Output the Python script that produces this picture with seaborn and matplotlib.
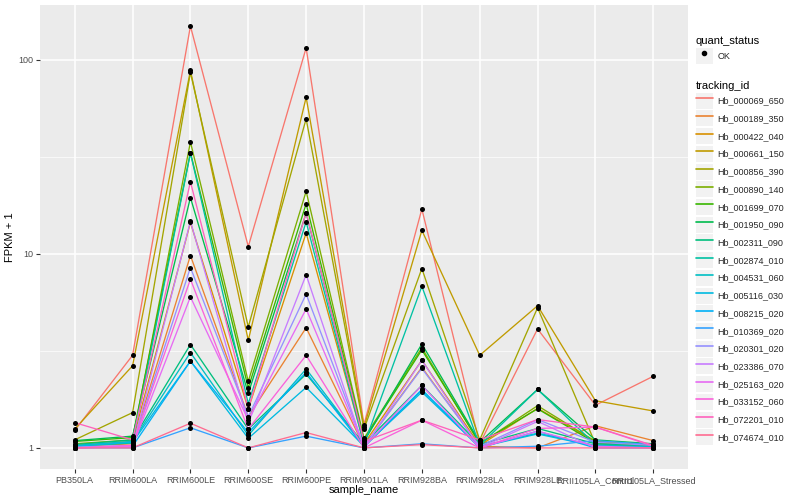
import numpy as np
import pandas as pd
import matplotlib
matplotlib.use('Agg')
import matplotlib.pyplot as plt
import seaborn as sns
from matplotlib.lines import Line2D
from matplotlib.patches import Patch
from matplotlib.legend_handler import HandlerTuple
from matplotlib.ticker import FixedLocator, NullFormatter, FuncFormatter

# samples on the x axis
samples = ['PB350LA', 'RRIM600LA', 'RRIM600LE', 'RRIM600SE', 'RRIM600PE',
           'RRIM901LA', 'RRIM928BA', 'RRIM928LA', 'RRIM928LE',
           'RRII105LA_Control', 'RRII105LA_Stressed']

tracking_ids = ['Hb_000069_650', 'Hb_000189_350', 'Hb_000422_040',
                'Hb_000661_150', 'Hb_000856_390', 'Hb_000890_140',
                'Hb_001699_070', 'Hb_001950_090', 'Hb_002311_090',
                'Hb_002874_010', 'Hb_004531_060', 'Hb_005116_030',
                'Hb_008215_020', 'Hb_010369_020', 'Hb_020301_020',
                'Hb_023386_070', 'Hb_025163_020', 'Hb_033152_060',
                'Hb_072201_010', 'Hb_074674_010']

# FPKM + 1 per gene, one value per sample
hb_000069_650 = [1.23, 3.0, 149, 10.9, 115, 1.32, 17.0, 1.05, 4.1, 1.66, 2.34]
hb_000189_350 = [1.02, 1.05, 9.8, 1.45, 4.16, 1.02, 2.6, 1.02, 1.0, 1.3, 1.09]
hb_000422_040 = [1.03, 1.08, 14.5, 1.59, 12.8, 1.05, 2.83, 1.03, 1.6, 1.08, 1.04]
hb_000661_150 = [1.25, 2.65, 88, 3.58, 64, 1.28, 13.2, 3.0, 5.4, 1.75, 1.55]
hb_000856_390 = [1.1, 1.52, 86, 4.2, 49.6, 1.25, 8.4, 1.1, 5.27, 1.05, 1.02]
hb_000890_140 = [1.05, 1.1, 37.7, 2.2, 21.0, 1.12, 3.28, 1.05, 1.65, 1.08, 1.02]
hb_001699_070 = [1.08, 1.13, 33.2, 2.04, 18.1, 1.1, 3.2, 1.06, 1.59, 1.06, 1.03]
hb_001950_090 = [1.09, 1.15, 19.5, 1.91, 16.2, 1.08, 3.43, 1.07, 2.0, 1.1, 1.05]
hb_002311_090 = [1.04, 1.1, 3.41, 1.25, 2.4, 1.05, 2.1, 1.04, 1.26, 1.05, 1.02]
hb_002874_010 = [1.02, 1.06, 33.0, 1.69, 14.6, 1.04, 6.8, 1.03, 2.0, 1.04, 1.01]
hb_004531_060 = [1.03, 1.08, 3.1, 1.16, 2.55, 1.03, 1.98, 1.02, 1.19, 1.03, 1.01]
hb_005116_030 = [1.02, 1.07, 2.8, 1.12, 2.05, 1.02, 1.94, 1.01, 1.18, 1.02, 1.01]
hb_008215_020 = [1.0, 1.02, 2.8, 1.2, 2.45, 1.01, 2.0, 1.0, 1.22, 1.0, 1.0]
hb_010369_020 = [1.0, 1.0, 1.27, 1.0, 1.15, 1.0, 1.05, 1.0, 1.02, 1.09, 1.04]
hb_020301_020 = [1.01, 1.03, 8.5, 1.45, 6.2, 1.02, 2.57, 1.02, 1.4, 1.07, 1.03]
hb_023386_070 = [1.0, 1.01, 14.7, 1.34, 7.8, 1.0, 2.83, 1.0, 1.37, 1.0, 1.0]
hb_025163_020 = [1.0, 1.02, 6.0, 1.39, 5.2, 1.01, 2.1, 1.0, 1.22, 1.02, 1.0]
hb_033152_060 = [1.0, 1.03, 7.4, 1.25, 3.0, 1.0, 1.39, 1.0, 1.26, 1.28, 1.02]
hb_072201_010 = [1.35, 1.1, 23.5, 1.59, 16.3, 1.08, 1.39, 1.1, 1.4, 1.28, 1.03]
hb_074674_010 = [1.0, 1.0, 1.34, 1.0, 1.2, 1.0, 1.04, 1.0, 1.0, 1.0, 1.0]

genes = [hb_000069_650, hb_000189_350, hb_000422_040, hb_000661_150,
         hb_000856_390, hb_000890_140, hb_001699_070, hb_001950_090,
         hb_002311_090, hb_002874_010, hb_004531_060, hb_005116_030,
         hb_008215_020, hb_010369_020, hb_020301_020, hb_023386_070,
         hb_025163_020, hb_033152_060, hb_072201_010, hb_074674_010]

# ggplot hue palette, 20 levels
palette = ['#F8766D', '#EA8331', '#D89000', '#C09B00', '#A3A500', '#7CAE00',
           '#39B600', '#00BB4E', '#00BF7D', '#00C1A3', '#00BFC4', '#00BAE0',
           '#00B0F6', '#35A2FF', '#9590FF', '#C77CFF', '#E76BF3', '#FA62DB',
           '#FF62BC', '#FF6C91']

rows = []
for tid, vals in zip(tracking_ids, genes):
    for i, (s, v) in enumerate(zip(samples, vals)):
        rows.append({'tracking_id': tid, 'sample_name': s, 'pos': i,
                     'fpkm1': v, 'quant_status': 'OK'})
df = pd.DataFrame(rows)

sns.set_theme(style='darkgrid')
plt.rcParams['font.family'] = ['Liberation Sans', 'DejaVu Sans']

fig = plt.figure(figsize=(8, 5), dpi=100)
fig.patch.set_facecolor('white')
ax = fig.add_axes([40 / 800, 1 - 469 / 500, (688 - 40) / 800, (469 - 5) / 500])

sns.lineplot(data=df, x='pos', y='fpkm1', hue='tracking_id',
             hue_order=tracking_ids, palette=palette, lw=0.95, sort=False,
             estimator=None, legend=False, ax=ax)
sns.scatterplot(data=df, x='pos', y='fpkm1', color='black', s=13,
                linewidth=0, legend=False, ax=ax, zorder=3)

ax.set_yscale('log')
lo, hi = np.log10(df['fpkm1'].min()), np.log10(df['fpkm1'].max())
pad = 0.05 * (hi - lo)
ax.set_ylim(10 ** (lo - pad), 10 ** (hi + pad))
ax.set_xlim(-0.6, len(samples) - 0.4)
ax.set_xticks(range(len(samples)))
ax.set_xticklabels(samples)
ax.yaxis.set_major_locator(FixedLocator([1, 10, 100]))
ax.yaxis.set_minor_locator(FixedLocator([10 ** 0.5, 10 ** 1.5]))
ax.yaxis.set_major_formatter(FuncFormatter(lambda v, p: f'{v:g}'))
ax.yaxis.set_minor_formatter(NullFormatter())

ax.set_facecolor('#EBEBEB')
ax.grid(which='major', color='white', lw=1.1)
ax.grid(which='minor', axis='y', color='white', lw=0.5)
ax.set_axisbelow(True)
for sp in ax.spines.values():
    sp.set_visible(False)
ax.tick_params(which='major', length=3, width=0.8, color='#333333',
               labelsize=6.5, labelcolor='#4D4D4D', pad=2,
               bottom=True, left=True)
ax.tick_params(which='minor', length=0)
ax.set_xlabel('sample_name', fontsize=8, labelpad=0, color='black')
ax.set_ylabel('FPKM + 1', fontsize=8, labelpad=2, color='black')

# legends
key_bg = '#F2F2F2'
hmap = {tuple: HandlerTuple(ndivide=1)}
leg_kw = dict(frameon=False, loc='upper left', fontsize=6.5,
              title_fontsize=8, handlelength=1.85, handleheight=2.35,
              handletextpad=0.55, labelspacing=0.19, borderaxespad=0,
              borderpad=0, alignment='left', handler_map=hmap)

ok_handle = (Patch(facecolor=key_bg, edgecolor='none'),
             Line2D([], [], marker='o', ls='none', color='black', ms=3))
leg1 = fig.legend(handles=[ok_handle], labels=['OK'], title='quant_status',
                  bbox_to_anchor=(696 / 800, 1 - 36 / 500), **leg_kw)

id_handles = [(Patch(facecolor=key_bg, edgecolor='none'),
               Line2D([], [], color=c, lw=1.2)) for c in palette]
leg2 = fig.legend(handles=id_handles, labels=tracking_ids, title='tracking_id',
                  bbox_to_anchor=(696 / 800, 1 - 81 / 500), **leg_kw)
for lg in (leg1, leg2):
    lg.get_title().set_color('black')

fig.savefig('out.png', dpi=100, facecolor='white')
